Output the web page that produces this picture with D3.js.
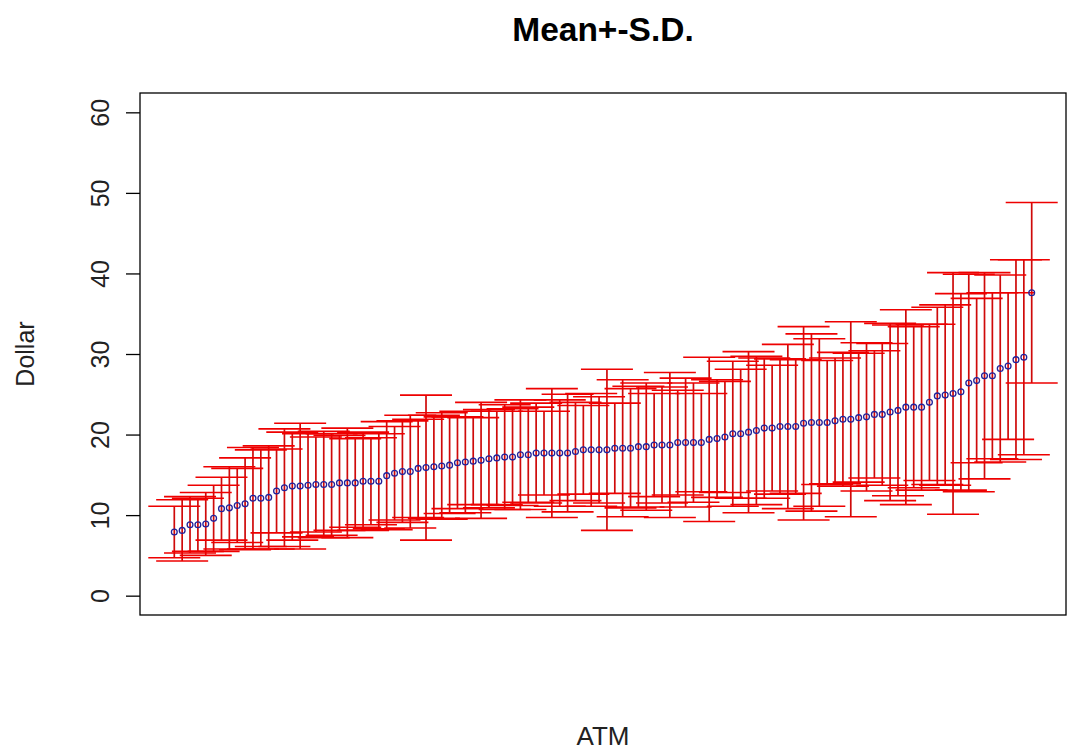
<!DOCTYPE html>
<html>
<head>
<meta charset="utf-8">
<script src="https://cdn.jsdelivr.net/npm/d3@7/dist/d3.min.js"></script>
<style>
  html, body { margin: 0; padding: 0; background: #fff; }
  svg { display: block; font-family: "Liberation Sans", Arial, sans-serif; }
</style>
</head>
<body>
<div id="chart"></div>
<script>
// ATM sorted by mean withdrawal, error bars = mean +/- one SD
const means = [
  7.9, 8.1, 8.8, 8.8, 8.9, 9.6, 10.8, 10.9, 11.2, 11.4, 12.1, 12.1, 12.2, 13.0, 13.4, 13.6, 13.6, 13.7, 13.8, 13.8,
  13.8, 14.0, 14.0, 14.0, 14.2, 14.2, 14.2, 14.9, 15.2, 15.4, 15.4, 15.8, 15.9, 16.0, 16.1, 16.2, 16.5, 16.6, 16.7, 16.8, 17.0, 17.1,
  17.2, 17.2, 17.5, 17.5, 17.7, 17.7, 17.7, 17.7, 17.7, 17.9, 18.1, 18.1, 18.1, 18.1, 18.3, 18.3, 18.3, 18.5, 18.5, 18.7, 18.7, 18.7,
  19.0, 19.0, 19.0, 19.0, 19.4, 19.5, 19.7, 20.1, 20.1, 20.3, 20.5, 20.8, 20.8, 21.0, 21.0, 21.0, 21.4, 21.5, 21.5, 21.5, 21.7,
  21.9, 21.9, 22.1, 22.2, 22.5, 22.5, 22.8, 23.0, 23.4, 23.4, 23.4, 24.0, 24.8, 24.9, 25.1, 25.3, 26.4, 26.7, 27.3, 27.3,
  28.2, 28.5, 29.3, 29.6, 37.6
]
const sds = [
  3.2, 3.8, 3.5, 3.3, 3.9, 4.1, 3.9, 5.1, 4.6, 5.7, 6.3, 6.0, 6.4, 5.2, 7.3, 6.7, 7.8, 6.4, 5.9, 6.6,
  6.3, 5.9, 6.8, 5.5, 6.1, 5.4, 5.9, 6.7, 5.8, 6.3, 7.0, 6.1, 9.0, 6.4, 6.6, 6.0, 5.7, 6.3, 5.4, 7.2, 6.1, 5.8,
  6.5, 6.0, 6.8, 5.9, 6.2, 5.2, 8.0, 6.6, 7.3, 6.1, 5.5, 7.0, 6.6, 10.0, 5.6, 8.5, 7.4, 7.5, 7.9, 6.4, 7.2, 9.0,
  6.5, 8.0, 7.4, 6.1, 10.2, 7.3, 6.9, 9.0, 8.0, 10.0, 9.2, 8.7, 7.8, 8.4, 10.2, 8.3, 12.0, 11.0, 10.4, 7.7, 7.8,
  8.3, 12.1, 8.0, 9.2, 7.9, 8.8, 11.0, 10.6, 12.1, 10.0, 10.3, 9.7, 11.0, 11.2, 15.0, 12.2, 13.5, 10.2, 12.8, 10.3,
  11.6, 9.1, 12.4, 12.1, 11.2
]
const yTicks = [0, 10, 20, 30, 40, 50, 60]
const title = "Mean+-S.D."
const xLabel = "ATM"
const yLabel = "Dollar"

const W = 1067, H = 751
const box = { left: 140, right: 1066, top: 93, bottom: 615 }
const CAP = 26 // demi-largeur des barres d'extrémité (px)

const data = means.map((m, i) => ({ i: i + 1, mean: m, sd: sds[i] }))
const n = data.length

// style R : 4 % d'extension de chaque côté
const padX = (n - 1) * 0.04
const x = d3.scaleLinear().domain([1 - padX, n + padX]).range([box.left, box.right])
const y = d3.scaleLinear().domain([-2.4, 62.4]).range([box.bottom, box.top])

const svg = d3.select("#chart").append("svg")
  .attr("width", W).attr("height", H)
  .attr("viewBox", `0 0 ${W} ${H}`)

svg.append("defs").append("clipPath").attr("id", "plot-clip")
  .append("rect")
  .attr("x", box.left).attr("y", box.top)
  .attr("width", box.right - box.left).attr("height", box.bottom - box.top)

const g = svg.append("g").attr("clip-path", "url(#plot-clip)")

const red = "#ee0000"

// barres verticales
g.selectAll("line.bar")
  .data(data)
  .join("line")
  .attr("class", "bar")
  .attr("x1", (d) => x(d.i)).attr("x2", (d) => x(d.i))
  .attr("y1", (d) => y(d.mean - d.sd)).attr("y2", (d) => y(d.mean + d.sd))
  .attr("stroke", "#cf0a0a").attr("stroke-width", 1.7)

// extrémités haut + bas
const caps = data.flatMap((d) => [
  { i: d.i, v: d.mean + d.sd },
  { i: d.i, v: d.mean - d.sd },
])
g.selectAll("line.cap")
  .data(caps)
  .join("line")
  .attr("class", "cap")
  .attr("x1", (d) => x(d.i) - CAP).attr("x2", (d) => x(d.i) + CAP)
  .attr("y1", (d) => y(d.v)).attr("y2", (d) => y(d.v))
  .attr("stroke", red).attr("stroke-width", 1.6)

// moyennes
g.selectAll("circle.pt")
  .data(data)
  .join("circle")
  .attr("class", "pt")
  .attr("cx", (d) => x(d.i)).attr("cy", (d) => y(d.mean))
  .attr("r", 2.9)
  .attr("fill", "none")
  .attr("stroke", "#22229a").attr("stroke-width", 1.3)

// cadre
svg.append("rect")
  .attr("x", box.left).attr("y", box.top)
  .attr("width", box.right - box.left).attr("height", box.bottom - box.top)
  .attr("fill", "none").attr("stroke", "#000").attr("stroke-width", 1.3)

// axe Y (labels parallèles à l'axe, comme R)
const yAxis = svg.append("g")
  .attr("transform", `translate(${box.left},0)`)
  .call(d3.axisLeft(y).tickValues(yTicks).tickSize(14).tickPadding(0).tickFormat(d3.format("d")))
yAxis.select(".domain").remove()
yAxis.selectAll(".tick line").attr("stroke", "#000").attr("stroke-width", 1.3)
yAxis.selectAll(".tick text")
  .attr("x", null).attr("dy", null)
  .attr("transform", "translate(-40,0) rotate(-90)")
  .attr("text-anchor", "middle")
  .attr("dominant-baseline", "central")
  .attr("fill", "#222")
  .attr("font-size", 25)
  .attr("font-family", "Liberation Sans, Arial, sans-serif")

// titres
svg.append("text")
  .attr("x", (box.left + box.right) / 2).attr("y", 41)
  .attr("text-anchor", "middle")
  .attr("font-size", 33.5).attr("font-weight", "bold").attr("fill", "#000")
  .text(title)

svg.append("text")
  .attr("x", (box.left + box.right) / 2).attr("y", 745)
  .attr("text-anchor", "middle")
  .attr("font-size", 26).attr("fill", "#222")
  .text(xLabel)

svg.append("text")
  .attr("transform", `translate(25,${(box.top + box.bottom) / 2}) rotate(-90)`)
  .attr("text-anchor", "middle")
  .attr("dominant-baseline", "central")
  .attr("font-size", 25).attr("fill", "#222")
  .text(yLabel)
</script>
</body>
</html>
